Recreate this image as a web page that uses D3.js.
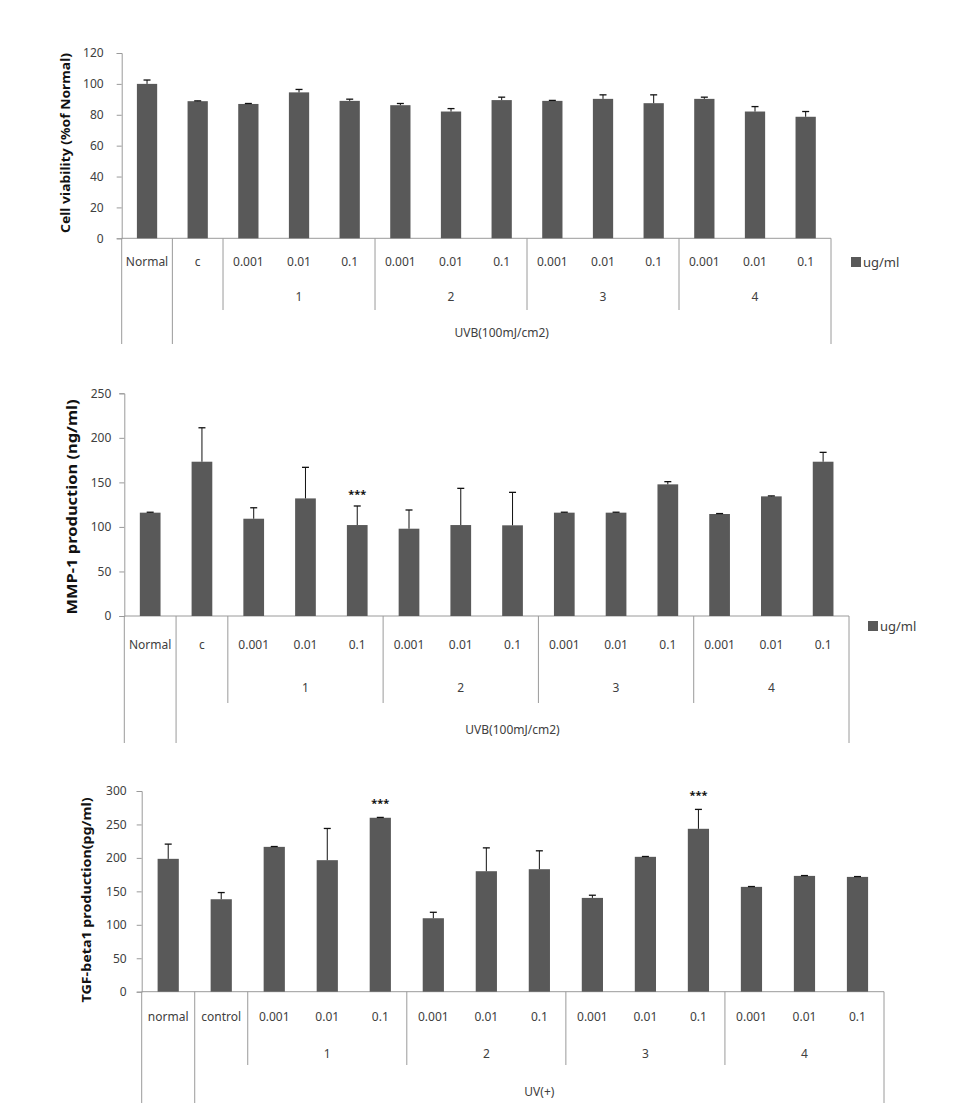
<!DOCTYPE html>
<html>
<head>
<meta charset="utf-8">
<script src="https://cdn.jsdelivr.net/npm/d3@7"></script>
<style>
  html, body { margin: 0; padding: 0; background: #fff; }
  svg text { font-family: "Noto Sans", "Open Sans", sans-serif; }
</style>
</head>
<body>
<svg id="chart" width="974" height="1116"></svg>
<script>
// ---------- data ----------
const viabilityLabels = ["Normal","c","0.001","0.01","0.1","0.001","0.01","0.1","0.001","0.01","0.1","0.001","0.01","0.1"];
const viabilityValues = [100, 88.8, 87, 94.5, 89, 86.2, 82.1, 89.5, 89, 90.3, 87.5, 90.3, 82.1, 78.7];
const viabilityErrors = [2.5, 0.2, 0.3, 1.9, 1.1, 1.1, 1.9, 1.9, 0.3, 2.6, 5.4, 1.1, 3.2, 3.4];
const viabilityTicks = [0, 20, 40, 60, 80, 100, 120];

const mmpLabels = ["Normal","c","0.001","0.01","0.1","0.001","0.01","0.1","0.001","0.01","0.1","0.001","0.01","0.1"];
const mmpValues = [116, 173.2, 109.2, 132, 102.1, 98, 102.1, 101.8, 116, 116, 147.8, 114.5, 134.3, 173.2];
const mmpErrors = [0.5, 38.1, 12.3, 34.9, 21.4, 21, 41.2, 37, 0.5, 0.5, 3, 0.5, 0.5, 10.5];
const mmpTicks = [0, 50, 100, 150, 200, 250];
const mmpStars = [4];

const tgfLabels = ["normal","control","0.001","0.01","0.1","0.001","0.01","0.1","0.001","0.01","0.1","0.001","0.01","0.1"];
const tgfValues = [198.6, 138.2, 216.5, 196.6, 260, 109.8, 180.1, 183.1, 140.2, 201.6, 243.5, 156.7, 173.1, 171.6];
const tgfErrors = [22, 10, 0.5, 47.4, 0.5, 8.9, 34.9, 27.5, 4, 0.5, 29, 0.5, 0.5, 0.5];
const tgfTicks = [0, 50, 100, 150, 200, 250, 300];
const tgfStars = [4, 10];

const groupLabels = ["1", "2", "3", "4"];
const groupStart = [2, 5, 8, 11];   // index of first category in each group

// ---------- drawing ----------
const svg = d3.select("#chart");
const BAR = "#595959", AXIS = "#9a9a9a", TXT = "#404040";
const FS = 12;

function drawChart(o) {
  const g = svg.append("g");
  const x = d3.scaleBand().domain(d3.range(o.values.length)).range([o.x0, o.x1]).paddingInner(0.6).paddingOuter(0.3);
  const y = d3.scaleLinear().domain([0, o.yMax]).range([o.zero, o.top]);
  const band = x.step();

  // y axis
  const ya = d3.axisLeft(y).tickValues(o.ticks).tickSize(5).tickPadding(o.tickPad);
  const yg = g.append("g").attr("transform", `translate(${o.x0},0)`).call(ya);
  yg.select(".domain").attr("stroke", AXIS);
  yg.selectAll(".tick line").attr("stroke", AXIS);
  yg.selectAll(".tick text").attr("fill", TXT).attr("font-size", FS).style("font-family", "'Noto Sans', sans-serif");

  // baseline
  g.append("line").attr("x1", o.x0).attr("x2", o.x1).attr("y1", o.zero).attr("y2", o.zero).attr("stroke", AXIS);

  // bars
  g.selectAll("rect.bar").data(o.values).join("rect")
    .attr("x", (d, i) => x(i)).attr("width", x.bandwidth())
    .attr("y", d => y(d)).attr("height", d => o.zero - y(d))
    .attr("fill", BAR);

  // error bars (plus only)
  o.values.forEach((v, i) => {
    const cx = x(i) + x.bandwidth() / 2;
    const yt = y(v + o.errors[i]);
    g.append("line").attr("x1", cx).attr("x2", cx).attr("y1", y(v)).attr("y2", yt).attr("stroke", "#111").attr("stroke-width", 1);
    g.append("line").attr("x1", cx - 3.5).attr("x2", cx + 3.5).attr("y1", yt).attr("y2", yt).attr("stroke", "#111").attr("stroke-width", 1.3);
  });

  // significance
  (o.stars || []).forEach(i => {
    const cx = x(i) + x.bandwidth() / 2;
    g.append("text").attr("x", cx).attr("y", y(o.values[i] + o.errors[i]) - o.starGap)
      .attr("text-anchor", "middle").attr("font-size", 11).attr("font-weight", "bold").attr("fill", "#111").text("***");
  });

  // level 1 labels
  g.selectAll("text.l1").data(o.labels).join("text")
    .attr("x", (d, i) => x(i) + x.bandwidth() / 2).attr("y", o.l1).attr("dy", "0.35em")
    .attr("text-anchor", "middle").attr("font-size", FS).attr("fill", TXT).text(d => d);

  // level 2 labels
  groupLabels.forEach((lab, k) => {
    const cx = x(groupStart[k] + 1) + x.bandwidth() / 2;
    g.append("text").attr("x", cx).attr("y", o.l2).attr("dy", "0.35em")
      .attr("text-anchor", "middle").attr("font-size", FS).attr("fill", TXT).text(lab);
  });

  // level 3 label
  const left3 = o.x0 + band, right3 = o.x1;
  g.append("text").attr("x", (left3 + right3) / 2).attr("y", o.l3).attr("dy", "0.35em")
    .attr("text-anchor", "middle").attr("font-size", FS).attr("fill", TXT).text(o.level3);

  // separators
  const vline = (xx, yb) => g.append("line").attr("x1", xx).attr("x2", xx).attr("y1", o.zero).attr("y2", yb).attr("stroke", AXIS);
  vline(o.x0, o.outerBottom);
  vline(o.x0 + band, o.outerBottom);
  vline(o.x1, o.outerBottom);
  groupStart.forEach(s => vline(o.x0 + band * s, o.groupBottom));

  // y title
  g.append("text").attr("transform", `translate(${o.titleX},${o.titleY}) rotate(-90)`)
    .attr("text-anchor", "middle").attr("dy", "0.35em").attr("font-size", o.titleSize).attr("font-weight", "bold")
    .attr("textLength", o.titleLen).attr("lengthAdjust", "spacingAndGlyphs")
    .attr("fill", "#111").text(o.title);

  // legend
  if (o.legend) {
    g.append("rect").attr("x", o.legend[0]).attr("y", o.legend[1] - 5).attr("width", 10).attr("height", 10).attr("fill", BAR);
    g.append("text").attr("x", o.legend[0] + 12).attr("y", o.legend[1]).attr("dy", "0.35em")
      .attr("font-size", FS + 1).attr("fill", TXT).text("ug/ml");
  }
}

drawChart({
  values: viabilityValues, errors: viabilityErrors, labels: viabilityLabels, ticks: viabilityTicks,
  x0: 121.7, x1: 831, zero: 238.3, top: 53, yMax: 120, tickPad: 13,
  l1: 262, l2: 297, l3: 333, groupBottom: 310, outerBottom: 344,
  level3: "UVB(100mJ/cm2)", title: "Cell viability (%of Normal)", titleX: 65, titleY: 143, titleSize: 13, titleLen: 180,
  legend: [851, 262]
});

drawChart({
  values: mmpValues, errors: mmpErrors, labels: mmpLabels, ticks: mmpTicks, stars: mmpStars, starGap: 8,
  x0: 124.3, x1: 849, zero: 616, top: 393.3, yMax: 250, tickPad: 8,
  l1: 645, l2: 688, l3: 730, groupBottom: 703, outerBottom: 743,
  level3: "UVB(100mJ/cm2)", title: "MMP-1 production  (ng/ml)", titleX: 72, titleY: 507, titleSize: 14, titleLen: 215,
  legend: [868, 626]
});

drawChart({
  values: tgfValues, errors: tgfErrors, labels: tgfLabels, ticks: tgfTicks, stars: tgfStars, starGap: 10,
  x0: 141.7, x1: 884, zero: 991.7, top: 791, yMax: 300, tickPad: 10,
  l1: 1017, l2: 1054, l3: 1092, groupBottom: 1065, outerBottom: 1103,
  level3: "UV(+)", title: "TGF-beta1 production(pg/ml)", titleX: 86, titleY: 900, titleSize: 13, titleLen: 205,
  legend: null
});
</script>
</body>
</html>
